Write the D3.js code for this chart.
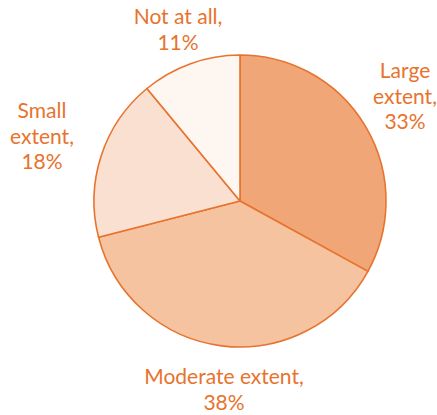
<!DOCTYPE html>
<html><head><meta charset="utf-8">
<script src="https://cdn.jsdelivr.net/npm/d3@7"></script>
<style>body{margin:0;background:#fff}svg{display:block}</style>
</head><body>
<script>
const categories = ["Large extent", "Moderate extent", "Small extent", "Not at all"];
const values = [33, 38, 18, 11];
const colors = ["#f1a677", "#f6c3a0", "#f9e0d0", "#fdf6f1"];
const labelLines = [["Large", "extent,", "33%"], ["Moderate extent,", "38%"], ["Small", "extent,", "18%"], ["Not at all,", "11%"]];
const labelPos = [[405, 78], [224, 384], [42, 118], [178, 24]];

const W = 437, H = 415;
const svg = d3.select("body").append("svg").attr("width", W).attr("height", H);
const cx = 240, cy = 201, r = 146;
const data = categories.map((c, i) => ({c, v: values[i], i}));
const pie = d3.pie().value(d => d.v).sort(null);
const arc = d3.arc().innerRadius(0).outerRadius(r);
const g = svg.append("g").attr("transform", `translate(${cx},${cy})`);
g.selectAll("path").data(pie(data)).join("path")
  .attr("d", arc)
  .attr("fill", d => colors[d.data.i])
  .attr("stroke", "#e8732e")
  .attr("stroke-width", 1.6)
  .attr("stroke-linejoin", "round");

data.forEach((d, i) => {
  const t = svg.append("text")
    .attr("text-anchor", "middle")
    .attr("font-family", "Lato, 'Open Sans', sans-serif")
    .attr("font-size", 21)
    .attr("fill", "#e8732e");
  labelLines[i].forEach((ln, j) => {
    t.append("tspan").attr("x", labelPos[i][0]).attr("y", labelPos[i][1] + j * 25.5).text(ln);
  });
});
</script>
</body></html>
